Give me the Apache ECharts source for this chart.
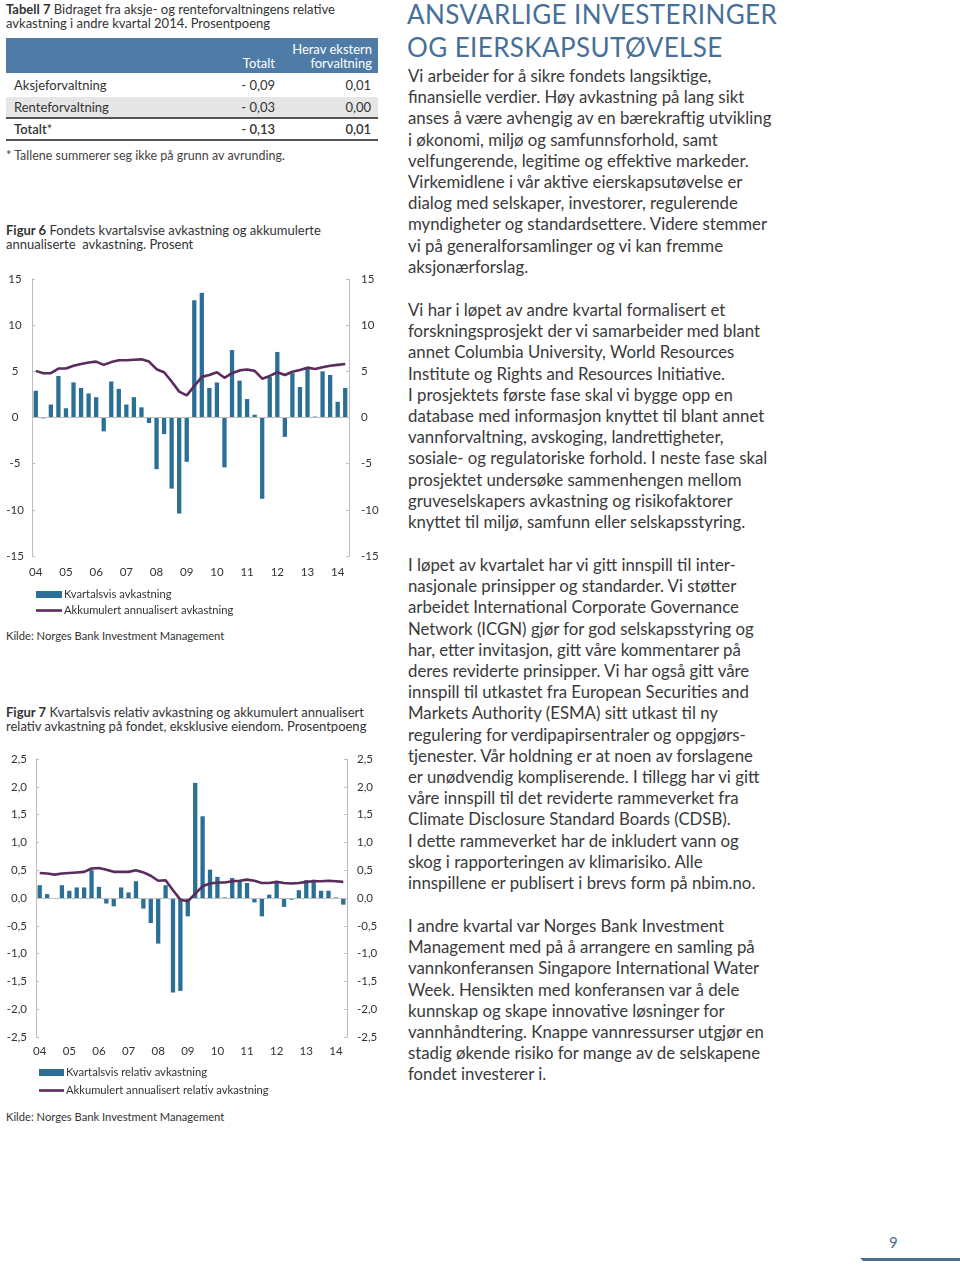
<!DOCTYPE html>
<html><head><meta charset="utf-8">
<script src="https://cdn.jsdelivr.net/npm/echarts@6/dist/echarts.min.js"></script>
<style>
html,body{margin:0;padding:0;background:#fff;}
body{width:960px;height:1266px;position:relative;overflow:hidden;font-family:Lato,"Noto Sans",sans-serif;color:#333;}
.abs{position:absolute;white-space:nowrap;}
.body{font-size:16.8px;line-height:21.2px;color:#3a3a3a;left:408px;}
.title{left:407px;font-size:26px;line-height:33px;color:#46709a;letter-spacing:0.4px;}
.cap{left:6px;font-size:13px;line-height:14px;color:#333;}
.tbl{font-size:13px;color:#333;}
.r{text-align:right;}
</style></head>
<body>
<div class="abs cap" style="top:2px;"><b>Tabell 7</b> Bidraget fra aksje- og renteforvaltningens relative<br>avkastning i andre kvartal 2014. Prosentpoeng</div>
<div class="abs" style="left:6px;top:38px;width:372px;height:35px;background:#4f7ca6;"></div>
<div class="abs tbl r" style="left:250px;top:42px;width:122px;line-height:14px;color:#fff;">Herav ekstern<br>forvaltning</div>
<div class="abs tbl r" style="left:180px;top:56px;width:95px;line-height:14px;color:#fff;">Totalt</div>
<div class="abs" style="left:6px;top:97px;width:372px;height:20px;background:#e6e6e6;"></div>
<div class="abs" style="left:6px;top:117px;width:372px;height:2px;background:#555;"></div>
<div class="abs" style="left:6px;top:139px;width:372px;height:2px;background:#555;"></div>
<div class="abs tbl" style="left:14px;top:77px;line-height:16px;">Aksjeforvaltning</div>
<div class="abs tbl r" style="left:180px;top:77px;width:95px;line-height:16px;">- 0,09</div>
<div class="abs tbl r" style="left:250px;top:77px;width:121px;line-height:16px;">0,01</div>
<div class="abs tbl" style="left:14px;top:99px;line-height:16px;">Renteforvaltning</div>
<div class="abs tbl r" style="left:180px;top:99px;width:95px;line-height:16px;">- 0,03</div>
<div class="abs tbl r" style="left:250px;top:99px;width:121px;line-height:16px;">0,00</div>
<div class="abs tbl" style="left:14px;top:121px;line-height:16px;font-weight:600;">Totalt<span style="font-weight:400;">*</span></div>
<div class="abs tbl r" style="left:180px;top:121px;width:95px;line-height:16px;font-weight:600;">- 0,13</div>
<div class="abs tbl r" style="left:250px;top:121px;width:121px;line-height:16px;font-weight:600;">0,01</div>
<div class="abs" style="left:6px;top:148px;font-size:12.5px;line-height:16px;color:#444;">* Tallene summerer seg ikke på grunn av avrunding.</div>

<div class="abs cap" style="top:223px;"><b>Figur 6</b> Fondets kvartalsvise avkastning og akkumulerte<br>annualiserte&nbsp; avkastning. Prosent</div>
<div id="c6" class="abs" style="left:0;top:265px;width:390px;height:360px;"></div>
<div class="abs" style="left:6px;top:629px;font-size:11.2px;line-height:14px;">Kilde: Norges Bank Investment Management</div>

<div class="abs cap" style="top:705px;"><b>Figur 7</b> Kvartalsvis relativ avkastning og akkumulert annualisert<br>relativ avkastning på fondet, eksklusive eiendom. Prosentpoeng</div>
<div id="c7" class="abs" style="left:0;top:745px;width:390px;height:360px;"></div>
<div class="abs" style="left:6px;top:1110px;font-size:11.2px;line-height:14px;">Kilde: Norges Bank Investment Management</div>

<div class="abs title" style="top:-2px;">ANSVARLIGE INVESTERINGER<br>OG EIERSKAPSUTØVELSE</div>
<div class="abs body" style="top:65px;">Vi arbeider for å sikre fondets langsiktige,<br>finansielle verdier. Høy avkastning på lang sikt<br>anses å være avhengig av en bærekraftig utvikling<br>i økonomi, miljø og samfunnsforhold, samt<br>velfungerende, legitime og effektive markeder.<br>Virkemidlene i vår aktive eierskapsutøvelse er<br>dialog med selskaper, investorer, regulerende<br>myndigheter og standardsettere. Videre stemmer<br>vi på generalforsamlinger og vi kan fremme<br>aksjonærforslag.</div>
<div class="abs body" style="top:299px;">Vi har i løpet av andre kvartal formalisert et<br>forskningsprosjekt der vi samarbeider med blant<br>annet Columbia University, World Resources<br>Institute og Rights and Resources Initiative.<br>I prosjektets første fase skal vi bygge opp en<br>database med informasjon knyttet til blant annet<br>vannforvaltning, avskoging, landrettigheter,<br>sosiale- og regulatoriske forhold. I neste fase skal<br>prosjektet undersøke sammenhengen mellom<br>gruveselskapers avkastning og risikofaktorer<br>knyttet til miljø, samfunn eller selskapsstyring.</div>
<div class="abs body" style="top:554px;">I løpet av kvartalet har vi gitt innspill til inter-<br>nasjonale prinsipper og standarder. Vi støtter<br>arbeidet International Corporate Governance<br>Network (ICGN) gjør for god selskapsstyring og<br>har, etter invitasjon, gitt våre kommentarer på<br>deres reviderte prinsipper. Vi har også gitt våre<br>innspill til utkastet fra European Securities and<br>Markets Authority (ESMA) sitt utkast til ny<br>regulering for verdipapirsentraler og oppgjørs-<br>tjenester. Vår holdning er at noen av forslagene<br>er unødvendig kompliserende. I tillegg har vi gitt<br>våre innspill til det reviderte rammeverket fra<br>Climate Disclosure Standard Boards (CDSB).<br>I dette rammeverket har de inkludert vann og<br>skog i rapporteringen av klimarisiko. Alle<br>innspillene er publisert i brevs form på nbim.no.</div>
<div class="abs body" style="top:915px;">I andre kvartal var Norges Bank Investment<br>Management med på å arrangere en samling på<br>vannkonferansen Singapore International Water<br>Week. Hensikten med konferansen var å dele<br>kunnskap og skape innovative løsninger for<br>vannhåndtering. Knappe vannressurser utgjør en<br>stadig økende risiko for mange av de selskapene<br>fondet investerer i.</div>

<div class="abs" style="left:889px;top:1233px;font-size:15px;line-height:18px;color:#4a6f8f;">9</div>
<div class="abs" style="left:860px;top:1258px;width:100px;height:3px;background:#4a6f8f;clip-path:polygon(0 0,100% 0,100% 100%,3px 100%);"></div>

<script>
// Quarters 2004 K1 .. 2014 K2
var quarters = ['04K1','04K2','04K3','04K4','05K1','05K2','05K3','05K4','06K1','06K2','06K3','06K4',
  '07K1','07K2','07K3','07K4','08K1','08K2','08K3','08K4','09K1','09K2','09K3','09K4',
  '10K1','10K2','10K3','10K4','11K1','11K2','11K3','11K4','12K1','12K2','12K3','12K4',
  '13K1','13K2','13K3','13K4','14K1','14K2'];

// Figur 6 (prosent)
var fig6Quarterly = [2.9,-0.1,1.4,4.5,1.0,3.8,3.2,2.6,2.2,-1.5,
  3.9,3.1,1.4,2.2,1.1,-0.6,-5.6,-1.8,-7.7,-10.4,
  -4.8,12.7,13.5,3.2,3.8,-5.4,7.3,4.0,2.0,0.3,
  -8.8,4.4,7.1,-2.1,4.8,3.3,5.4,0.1,5.0,4.6,
  1.7,3.2];
var fig6Accum = [5.05,4.8,4.8,5.3,5.3,5.6,5.8,5.95,6.05,5.7,
  6.0,6.2,6.2,6.25,6.3,6.06,5.23,4.9,3.9,2.8,
  2.4,3.4,4.4,4.6,4.9,4.3,4.8,5.1,5.2,5.05,
  4.2,4.5,4.9,4.6,4.95,5.15,5.4,5.25,5.45,5.6,
  5.7,5.8];
var fig6Names = ['Kvartalsvis avkastning','Akkumulert annualisert avkastning'];

// Figur 7 (prosentpoeng)
var fig7Quarterly = [0.23,0.07,-0.01,0.23,0.13,0.19,0.19,0.5,0.2,-0.1,
  -0.15,0.19,0.1,0.3,-0.19,-0.45,-0.82,0.23,-1.7,-1.67,
  -0.33,2.07,1.47,0.51,0.38,0.01,0.36,0.3,0.27,-0.08,
  -0.33,0.06,0.3,-0.16,-0.03,0.14,0.32,0.33,0.13,0.13,
  0.01,-0.12];
var fig7Accum = [0.45,0.44,0.42,0.44,0.45,0.46,0.47,0.53,0.54,0.51,
  0.47,0.47,0.47,0.5,0.46,0.4,0.31,0.32,0.14,-0.03,
  -0.06,0.08,0.21,0.26,0.28,0.28,0.3,0.31,0.33,0.31,
  0.27,0.27,0.29,0.27,0.26,0.27,0.29,0.3,0.3,0.31,
  0.3,0.29];
var fig7Names = ['Kvartalsvis relativ avkastning','Akkumulert annualisert relativ avkastning'];

var BAR = '#2b6f97', LINE = '#5a2b5d', AX = '#bdbdbd';
var FONT = 'Lato, "Noto Sans", sans-serif';

function build(el, cfg) {
  var ch = echarts.init(el, null, {renderer:'canvas'});
  function yAx(pos, lbl) {
    return {type:'value', position:pos, min:cfg.min, max:cfg.max, interval:cfg.interval,
      axisLine:{show:true, lineStyle:{color:AX, width:1}},
      axisTick:{show:true, length:3, inside:true, lineStyle:{color:AX}},
      splitLine:{show:false},
      axisLabel:Object.assign({color:'#333', fontSize:11.5, fontFamily:FONT, formatter:cfg.fmt}, lbl)};
  }
  var legTxt = {color:'#333', fontSize:11.2, fontFamily:FONT, padding:[0,0,0,-3]};
  ch.setOption({
    animation:false,
    grid:cfg.grid,
    legend:[
      {orient:'vertical', left:cfg.legLeft, top:cfg.legTop1, padding:0, itemWidth:cfg.legW, itemHeight:7,
        textStyle:legTxt, data:[{name:cfg.names[0], icon:'rect'}]},
      {orient:'vertical', left:cfg.legLeft, top:cfg.legTop2, padding:0, itemWidth:cfg.legW, itemHeight:2.6,
        textStyle:legTxt, data:[{name:cfg.names[1], icon:'rect'}]}
    ],
    xAxis:{type:'category', data:quarters, boundaryGap:true,
      axisLine:{show:false}, axisTick:{show:false}, splitLine:{show:false},
      axisLabel:{interval:function(i){return i % 4 === 0;}, formatter:function(v){return v.slice(0,2);},
        color:'#333', fontSize:11.5, fontFamily:FONT, margin:cfg.xMargin}},
    yAxis:[yAx('left', cfg.leftLbl), yAx('right', cfg.rightLbl)],
    series:[
      {name:cfg.names[0], type:'bar', data:cfg.bars, barWidth:4.3, itemStyle:{color:BAR},
        markLine:{silent:true, symbol:'none', label:{show:false}, lineStyle:{color:AX, width:1, type:'solid'},
          data:[{yAxis:0}]}},
      {name:cfg.names[1], type:'line', data:cfg.line, symbol:'none', smooth:false,
        lineStyle:{color:LINE, width:2.6}, itemStyle:{color:LINE}, z:5}
    ]
  });
}

build(document.getElementById('c6'), {
  min:-15, max:15, interval:5, fmt:function(v){return String(v);},
  grid:{left:32, right:41, top:14, height:277},
  leftLbl:{align:'center', margin:17}, rightLbl:{align:'left', margin:12},
  xMargin:10, legLeft:36, legTop1:324, legTop2:340, legW:26,
  names:fig6Names, bars:fig6Quarterly, line:fig6Accum
});
build(document.getElementById('c7'), {
  min:-2.5, max:2.5, interval:0.5, fmt:function(v){return v.toFixed(1).replace('.', ',');},
  grid:{left:36, right:43, top:14, height:278},
  leftLbl:{align:'right', margin:9}, rightLbl:{align:'left', margin:10},
  xMargin:8, legLeft:39, legTop1:322, legTop2:340, legW:25,
  names:fig7Names, bars:fig7Quarterly, line:fig7Accum
});
</script>
</body></html>
